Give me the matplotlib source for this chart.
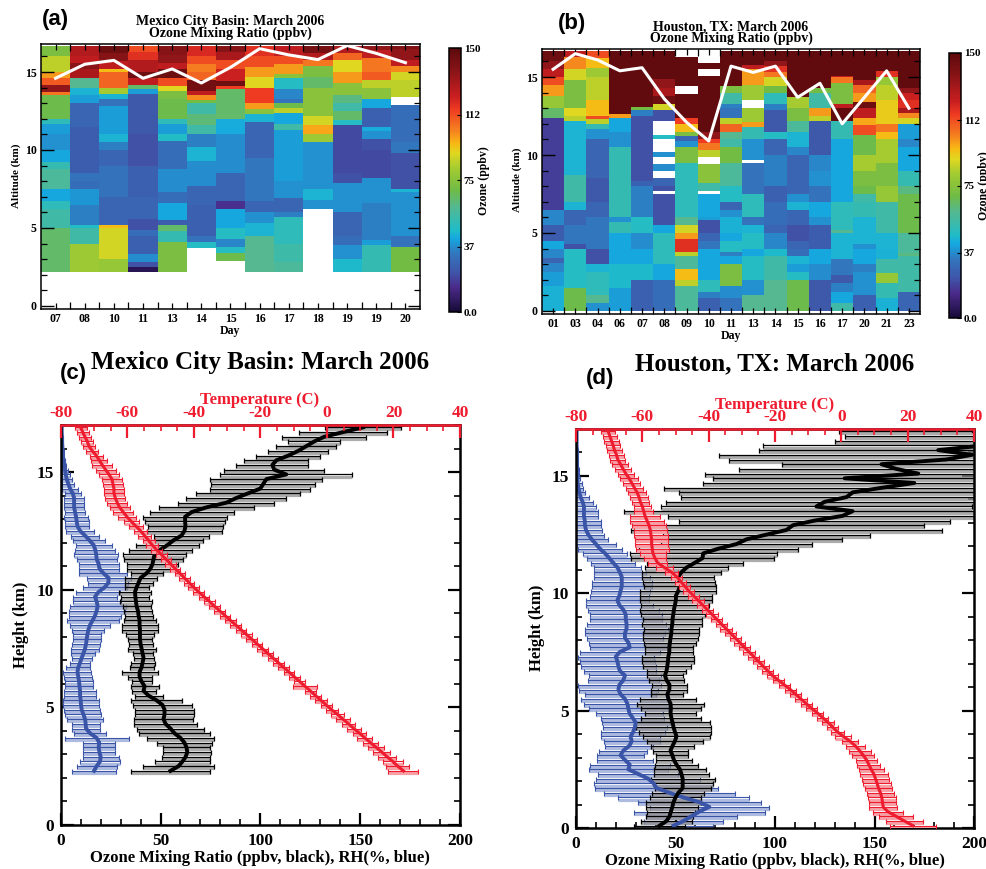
import numpy as np
import matplotlib
matplotlib.use('Agg')
import matplotlib.pyplot as plt
from matplotlib.colors import LinearSegmentedColormap, Normalize
from matplotlib.cm import ScalarMappable
from matplotlib.ticker import MultipleLocator

W, H = 986, 869
nan = float('nan')

days_a = ['07', '08', '10', '11', '13', '14', '15', '16', '17', '18', '19', '19', '20']
days_b = ['01', '03', '04', '06', '07', '08', '09', '10', '11', '13', '14', '15', '16', '17', '20', '21', '23']

# each column: (layer bottom km, ozone ppbv), nan = no data
cols_a = [
    [(2.2, 65), (5, 55), (6.2, 50), (6.7, 42), (7.5, 58), (8.8, 52), (9.2, 42), (10, 38), (11, 40), (11.7, 50), (12, 68), (13.5, 105), (13.7, 135), (14.2, 110), (14.6, 100), (15, 85), (16, 72)],
    [(2.2, 80), (4, 55), (5, 47), (5.2, 35), (6.5, 39), (7.5, 30), (8, 32), (8.5, 25), (11.5, 28), (13, 40), (13.5, 45), (14, 60), (14.6, 130), (15.2, 137), (15.6, 125), (16, 128)],
    [(2.2, 78), (3, 88), (5, 95), (5.2, 28), (7, 32), (9, 28), (10, 35), (10.5, 45), (11, 40), (12.8, 32), (13.3, 45), (13.6, 82), (14, 108), (15, 95), (15.2, 125), (15.7, 138), (16.2, 145)],
    [(2.2, 5), (2.5, 22), (2.8, 37), (3.3, 26), (4.5, 30), (4.9, 22), (5.6, 28), (7, 26), (9, 22), (11, 24), (13.6, 40), (13.9, 65), (14.2, 125), (14.6, 145), (15, 128), (15.8, 118), (16.3, 112)],
    [(2.2, 72), (4.1, 52), (4.8, 65), (5.2, 25), (5.5, 42), (6.6, 30), (7.3, 37), (8.8, 30), (10.6, 47), (11, 40), (11.7, 50), (12, 68), (13.3, 72), (13.8, 90), (14.1, 112), (14.6, 145), (15.2, 125), (15.6, 135), (16.1, 138)],
    [(2.2, nan), (3.7, 48), (4.1, 32), (4.5, 26), (6.5, 28), (7.7, 37), (9.3, 45), (10.2, 35), (11, 55), (11.6, 63), (12.3, 55), (13, 70), (13.2, 102), (13.5, 125), (13.8, 143), (14.5, 108), (15, 104), (15.5, 112), (16, 120)],
    [(2.2, nan), (2.9, 68), (3.4, 48), (3.8, 36), (4.3, 48), (5, 42), (6.2, 15), (6.7, 28), (8.5, 37), (11, 43), (12, 65), (13.9, 115), (14.1, 145), (14.4, 122), (15.2, 112), (15.8, 130), (16.3, 138)],
    [(2.2, 60), (4.5, 45), (5.3, 38), (6, 28), (6.7, 33), (9.5, 28), (11.8, 45), (12.3, 75), (12.6, 100), (13, 115), (14, 90), (14.7, 100), (15.3, 112), (16, 118)],
    [(2.2, 58), (2.8, 54), (4, 50), (5.7, 35), (6, 28), (6.9, 38), (8, 40), (11.3, 55), (11.7, 42), (12.4, 85), (12.7, 68), (13, 32), (13.3, 36), (13.9, 48), (14.6, 75), (14.9, 100), (15.5, 112), (16, 125)],
    [(2.2, nan), (6.2, 38), (6.8, 45), (7.5, 38), (10.5, 80), (11, 98), (11.6, 88), (12.2, 75), (14, 65), (14.7, 72), (15.4, 105), (15.8, 128), (16.2, 142)],
    [(2.2, 46), (3, 38), (3.9, 30), (4.5, 28), (6, 38), (7.9, 22), (8.5, 20), (11.6, 48), (11.9, 65), (12.5, 55), (13, 62), (13.5, 75), (14.3, 100), (15, 90), (15.8, 108), (16.2, 128)],
    [(2.2, 52), (3.9, 40), (4.2, 35), (6.6, 38), (8.2, 20), (10, 22), (10.7, 38), (11.2, 43), (11.5, 26), (12.7, 42), (13.3, 75), (14, 85), (14.5, 110), (15, 105), (15.9, 125), (16.4, 135)],
    [(2.2, 70), (3.8, 32), (4.5, 38), (7.3, 45), (7.5, 22), (9.8, 33), (10.5, 30), (12.9, nan), (13.4, 85), (14.5, 88), (15, 102), (15.4, 125), (15.8, 135), (16.5, 140)],
]
cols_b = [
    [(0, 44), (1.6, 40), (2.5, 36), (3.1, 28), (3.4, 36), (4, 42), (4.5, 25), (5.5, 36), (6.5, 18), (12.4, 65), (13, 78), (13.8, 100), (14.5, 112), (15, 125), (15.5, 135), (16, 145)],
    [(0, 68), (1.5, 48), (4, 22), (4.3, 33), (5.5, 28), (6.5, 45), (7, 55), (8.7, 45), (12.2, 85), (12.5, 90), (13, 72), (14.8, 88), (15.5, 102), (16.3, 125)],
    [(0, 38), (0.5, 60), (1, 50), (2.5, 45), (3, 22), (4, 33), (6, 28), (7, 24), (8.5, 28), (11, 38), (11.7, 52), (12, 85), (12.3, 112), (12.5, 95), (13.5, 85), (15, 80), (15.6, 95), (16.2, 112)],
    [(0, 40), (1.5, 46), (3, 42), (5, 52), (5.7, 38), (6, 52), (10.5, 38), (11.5, 42), (12.4, 100), (12.6, 148)],
    [(0, 26), (2, 46), (3, 42), (4, 37), (5, 48), (6, 35), (8, 27), (8.3, 22), (12.5, 35), (12.9, 70), (13.1, 148)],
    [(0, 30), (2, 42), (3, 50), (5, 42), (5.5, 22), (7.5, nan), (7.7, 22), (8, 28), (8.5, nan), (9, 37), (9.4, nan), (9.9, 38), (10.2, nan), (11, 48), (11.3, nan), (12.2, 22), (12.9, 88), (13.3, 145), (13.8, 130), (14.3, 135), (14.9, 148)],
    [(0, 58), (1.6, 85), (2, 95), (2.7, 58), (3.5, 85), (3.8, 118), (4.6, 100), (5, 88), (5.5, 60), (6, 50), (9.5, 72), (10.5, 38), (10.9, 28), (11.2, 72), (11.5, 95), (12, 115), (12.4, 148), (13.9, nan), (14.4, 148), (16.3, nan)],
    [(0, 26), (0.8, 35), (1.2, 50), (2, 42), (4, 33), (4.5, 28), (5, 22), (5.8, 40), (6, 42), (7.5, nan), (7.7, 55), (8.2, 75), (9.4, nan), (9.9, 85), (10.3, 105), (10.8, 115), (11, 135), (11.5, 148), (15.1, nan), (15.5, 148), (15.9, nan)],
    [(0, 32), (0.8, 37), (1.6, 72), (3, 42), (3.5, 35), (3.8, 48), (4.5, 42), (5, 44), (6, 38), (6.5, 28), (7, 48), (8, 58), (9.5, 70), (10.5, 55), (11, 60), (11.5, 108), (12, 85), (12.4, 32), (13, 35), (13.3, 55), (14, 72), (14.4, 148)],
    [(0, 60), (1, 38), (2, 48), (3.5, 42), (4, 48), (5, 45), (5.5, 32), (6, 50), (7.5, 32), (9.5, nan), (9.7, 38), (11, 52), (11.8, 100), (12.1, 80), (13, nan), (13.5, 80), (14.5, 100), (15.5, 125), (15.8, 148)],
    [(0, 60), (2, 55), (3.5, 46), (4, 36), (5, 28), (5.5, 30), (7, 26), (8, 35), (10, 28), (11, 48), (11.5, 24), (12.9, 35), (13.3, 50), (14, 70), (14.4, 88), (15, 105), (15.3, 118), (15.7, 135), (16, 148)],
    [(0, 68), (2, 48), (2.5, 40), (3, 45), (3.5, 30), (4, 28), (4.5, 22), (5.5, 28), (6.5, 45), (7, 38), (7.5, 28), (10, 36), (10.5, 45), (11.5, 58), (12.2, 72), (13, 82), (13.7, 148)],
    [(0, 24), (2, 37), (3, 42), (4, 25), (5.5, 38), (6, 42), (7, 32), (8, 38), (9, 36), (10, 24), (12.2, 85), (12.5, 100), (13, 55), (14, 70), (14.3, 148)],
    [(0, 55), (0.5, 42), (1.2, 35), (1.8, 24), (2.3, 33), (3.3, 45), (5, 60), (5.2, 50), (7, 42), (11, 52), (12.2, 148), (13, 125), (13.3, 72), (14.6, 105), (15, 125), (15.1, 148)],
    [(0, 26), (1, 38), (2.5, 35), (3, 42), (4, 38), (4.3, 45), (6, 52), (7, 55), (7.5, 68), (8, 72), (9, 82), (10, 68), (11.3, 112), (11.9, 98), (12.4, 125), (13, 145), (13.4, 100), (14, 108), (14.5, 130), (14.8, 148)],
    [(0, 44), (0.8, 52), (1.8, 78), (2.4, 55), (3.3, 44), (4, 45), (5, 55), (7, 78), (8, 72), (9.5, 82), (11, 95), (11.5, 105), (12, 92), (13.5, 85), (14.5, 78), (15, 118), (15.4, 148)],
    [(0, 28), (1.2, 55), (3.5, 62), (3.7, 58), (5, 68), (7.5, 62), (8, 52), (9, 42), (10.5, 36), (11, 40), (12, 88), (12.4, 102), (12.7, 130), (13, 118), (13.5, 122), (14, 135), (14.3, 148)],
]
trop_a = [14.6, 15.5, 15.75, 14.6, 15.2, 14.3, 15.3, 16.5, 16.1, 15.8, 16.7, 16.2, 15.6]
trop_b = [15.5, 16.5, 16.1, 15.4, 15.6, 13.6, 12.1, 10.9, 15.7, 15.3, 15.7, 13.7, 14.6, 12.0, 13.7, 15.4, 13.0]
cbar_ticks = [0, 37, 75, 112, 150]
cbar_labels = ['0.0', '37', '75', '112', '150']

# profiles, 0.2 km levels
z_c = np.arange(2.3, 16.95, 0.2)
o3_c = [55, 59, 61, 62.6, 63.4, 63, 62, 60, 57, 55, 52.5, 51.5, 52, 52, 51, 48, 44, 41.5, 42, 40.5,
        39.5, 39.5, 40.5, 41, 41.5, 41, 40.5, 40, 39.7, 39.7, 39.7, 39.5, 39.5, 39, 38.7, 38, 37.7, 37.4, 37.2, 38,
        39, 40, 43, 45, 46, 46.5, 47, 50, 53.5, 56.5, 60.5, 62, 62.5, 62.3, 62.3, 65.6, 73, 83, 88, 94,
        100, 101.5, 103, 113, 107, 106, 108, 114, 119, 123, 127, 132, 141.5, 151.5]
o3_sd_c = [20, 18, 14, 12, 12, 12, 14, 17, 18, 17, 16, 15, 15, 15, 15, 13, 7, 6, 7, 5,
           6, 9, 6, 6, 5, 5, 7, 6, 6, 7, 9, 9, 8, 7, 7, 7, 8, 7, 8, 6,
           7, 8, 8, 12, 13, 15, 16, 16, 16, 15, 14, 19, 19, 20, 21, 21, 24, 24, 25, 26,
           25, 26, 28, 33, 25, 18, 16, 16, 15, 15, 13, 21, 22, 19]
rh_c = [16.7, 18, 19.7, 20, 19.4, 19, 19.3, 18, 14.7, 12.7, 12.5, 12.2, 11.4, 10.5, 10.2, 10, 9.7, 9.7, 9.4, 9.2,
        8.8, 8.4, 8.8, 9.7, 10.5, 11.4, 12.2, 12.7, 13, 13.4, 13.9, 14.7, 16, 17.2, 18, 18.5, 18, 17.2, 18.9, 22,
        23.9, 24, 21.4, 19.4, 19, 18, 17.8, 17.3, 16.5, 14.4, 12.2, 9.7, 8.4, 8, 7.7, 7.2, 6.7, 6.7, 6.7, 6,
        4.7, 3.8, 3, 2.5, 2.2, 1.8, 1.3, 1.1, 1, 0.8, 0.7, 0.6, 0.5, 0.5]
rh_sd_c = [11, 10, 10, 9, 8, 8, 8, 16, 8, 7, 7, 9, 9, 9, 9, 9, 8, 8, 7, 7,
           7, 7, 6, 5, 5, 6, 7, 7, 7, 7, 8, 10, 13, 13, 14, 14, 12, 11, 11, 11,
           10, 11, 12, 10, 10, 10, 11, 10, 9, 8, 7, 7, 6, 6, 6, 5, 5, 5, 5, 4,
           4, 3, 2.5, 2, 1.5, 1, 1, 0.7, 0.6, 0.5, 0.4, 0.4, 0.3, 0.3]
t_c = [23, 21.3, 19.8, 18.1, 16.5, 14.8, 13.1, 11.4, 9.8, 8.1, 6.5, 4.8, 3.2, 1.4, -0.2, -1.8, -3.4, -5, -6.6, -8.2,
       -9.8, -11.4, -13, -14.6, -16.2, -17.8, -19.4, -21, -22.6, -24.2, -25.8, -27.4, -29, -30.6, -32.2, -33.8, -35.3, -36.9, -38.5, -40,
       -41.4, -42.8, -44.2, -45.6, -47, -48.4, -49.8, -51.2, -52.5, -53.6, -54.8, -56, -57.4, -58.8, -60.1, -61.2, -62.3, -63, -63.6, -64,
       -64, -64.3, -64.6, -65.5, -66.5, -67.5, -68.4, -69.3, -70.5, -71.5, -72, -72.7, -73.4, -74]
t_sd_c = [4.5, 3.5, 3, 2.8, 2.6, 2.5, 2.3, 2.3, 2.1, 2.1, 2, 2, 1.9, 1.8, 1.7, 1.7, 1.6, 1.6, 3.6, 1.6,
          1.6, 1.6, 1.6, 1.6, 1.6, 1.6, 1.6, 1.6, 1.6, 1.6, 1.6, 1.6, 1.6, 1.6, 1.6, 1.6, 1.6, 1.6, 1.6, 1.6,
          1.6, 1.6, 1.6, 1.6, 1.6, 1.6, 1.6, 1.6, 1.8, 1.8, 2, 2, 2.2, 2.2, 2.6, 3, 3, 3, 3, 3,
          3, 3, 3, 3, 3, 3, 2.4, 2, 1.8, 1.8, 1.8, 1.8, 1.8, 1.8]

z_d = np.arange(0.1, 16.95, 0.2)
o3_d = [42, 45.5, 47, 47.7, 48.4, 49, 50, 51.4, 53.6, 53.6, 53.6, 53, 52.2, 50.5, 49.2, 48.4, 47.5, 48.5, 49.7, 50.5,
        49.7, 49, 48.5, 47.9, 47.5, 47.7, 47.5, 46.4, 45.9, 46.9, 47, 45.5, 44.7, 45.5, 45.9, 46.2, 46.4, 46.9, 46.9, 47.2,
        47.5, 47.9, 48, 48.4, 48.5, 48.9, 49.2, 49.7, 50.2, 50.2, 51.4, 52.2, 51.9, 51.4, 53, 55.6, 59.7, 63.6, 63.9, 71.5,
        80.7, 85.7, 95.7, 105.8, 109, 120, 134, 139, 120.8, 125, 136, 139, 154, 170, 135, 172,
        161, 153.5, 186, 199, 182, 205, 215, 215, 200]
o3_sd_d = [13, 13, 12, 12, 13, 14, 13, 13, 14, 15, 16, 14, 13, 11, 9, 8, 9, 11, 14, 17,
           18, 19, 19, 15, 13, 15, 17, 14, 8, 9, 9, 9, 9, 10, 12, 13, 13, 12, 12, 13,
           14, 14, 14, 15, 15, 16, 17, 17, 18, 18, 19, 18, 18, 18, 20, 21, 24, 36, 37, 40,
           38, 48, 52, 78, 66, 68, 88, 115, 78, 80, 83, 87, 110, 106, 66, 107,
           79, 50, 109, 127, 90, 111, 85, 80, 68]
rh_d = [49, 54, 58, 62, 67, 62, 54, 47, 40.5, 39, 36.3, 31.3, 26.3, 27, 24.6, 22.4, 23.8, 26.8, 28, 27.4,
        28.8, 29.6, 30, 28.4, 26.8, 26.3, 25.8, 24.6, 22.4, 21.3, 21.8, 23.8, 24.6, 22, 21.3, 20.8, 20, 22, 27, 26.3,
        24.6, 24.6, 25.4, 25.4, 25, 25, 23.8, 21.8, 20.8, 21.8, 22.4, 23, 23, 23, 22, 20.8, 18.7, 16.7, 14.6, 12,
        10, 7.9, 6.2, 5, 4.5, 4.4, 4, 4, 4, 3.3, 2.3, 1.7, 1.2, 0.8, 0.6, 0.6,
        0.5, 0.5, 0.4, 0.4, 0.4, 0.3, 0.3, 0.3, 0.3]
rh_sd_d = [20, 20, 23, 33, 30, 31, 33, 33, 31, 30, 26, 20, 20, 20, 14, 12, 12, 12, 14, 15,
           16, 16, 17, 16, 17, 20, 22, 22, 18, 20, 21, 18, 18, 18, 19, 19, 19, 20, 20, 20,
           19, 20, 21, 20, 18, 18, 18, 17, 16, 15, 15, 15, 15, 14, 13, 12, 11, 11, 11, 11,
           10, 8, 8, 8, 8, 8, 7, 7, 6, 5, 4, 3, 2.5, 2, 1.5, 1,
           0.8, 0.6, 0.5, 0.4, 0.4, 0.3, 0.3, 0.3, 0.3]
t_d = [21.6, 19, 16.5, 14, 12.6, 12.4, 12.2, 11.8, 11.2, 10.8, 10.3, 9.8, 9, 8.3, 7.6, 6.6, 5.5, 4.2, 2.6, 0.6,
       -1.2, -2.6, -4, -5.6, -7.2, -9, -10.6, -12.2, -13.8, -15.4, -17.2, -19, -20.8, -22.2, -23.6, -25, -26.4, -27.8, -29.2, -30.6,
       -32, -33.4, -34.8, -36.2, -37.6, -39, -40.4, -41.8, -43.2, -44.6, -46, -47.2, -48.4, -49.6, -51.2, -53.4, -55.4, -56.2, -56.8, -57,
       -57.2, -57.2, -57.4, -57.6, -58, -58.6, -59.2, -59.6, -60, -60.6, -61, -61.6, -62.4, -63.2, -64, -65,
       -65.8, -66.6, -67.4, -67.8, -68.4, -68.8, -69.3, -69.8, -70.3]
t_sd_d = [7, 5.5, 5, 4.5, 4.2, 4.2, 4.2, 4.2, 4.2, 4.2, 4.2, 4.2, 3.8, 3.5, 3.3, 3.3, 3.3, 2.8, 2.4, 2.4,
          1.9, 1.7, 1.7, 1.7, 1.7, 1.7, 1.7, 1.7, 1.7, 1.7, 1.7, 1.7, 1.7, 1.7, 1.7, 1.7, 1.7, 1.7, 1.7, 1.7,
          1.7, 1.7, 1.7, 1.7, 1.7, 1.7, 1.7, 1.7, 1.7, 1.7, 1.7, 1.7, 1.7, 1.7, 1.9, 2.5, 2.8, 3.2, 4, 5,
          5, 5, 5, 5, 5, 5, 4.5, 2.8, 2.6, 2.6, 2.6, 2.6, 2.6, 2.6, 2.6, 2.4,
          2.4, 2.4, 2.2, 2.2, 2.2, 2.2, 2.2, 2.2, 2.2]

plt.rcParams['font.family'] = ['Liberation Serif', 'DejaVu Serif']
plt.rcParams['font.weight'] = 'bold'
plt.rcParams['axes.unicode_minus'] = False

o3_cmap = LinearSegmentedColormap.from_list('o3', [
    (0.0, '#150a35'), (0.09, '#4b2a8a'), (0.15, '#3f55a8'), (0.22, '#3276be'), (0.28, '#15a8e0'),
    (0.31, '#20bcc8'), (0.40, '#55b890'), (0.46, '#6fbb45'), (0.55, '#a8cc30'), (0.60, '#e0d820'),
    (0.64, '#f8b815'), (0.69, '#f58020'), (0.77, '#ee3a22'), (0.82, '#c81e20'), (0.91, '#8c1518'),
    (1.0, '#5c0a0c')])
o3_norm = Normalize(0, 150)

fig = plt.figure(figsize=(W / 100, H / 100), dpi=100)


def px_axes(x0, y0, x1, y1):
    return fig.add_axes([x0 / W, 1 - y1 / H, (x1 - x0) / W, (y1 - y0) / H])


def px_text(x, y, s, **kw):
    kw.setdefault('ha', 'center')
    kw.setdefault('va', 'center')
    fig.text(x / W, 1 - y / H, s, **kw)


def curtain(box, cbox, days, cols, trop):
    ax = px_axes(*box)
    for i, col in enumerate(cols):
        edges = [c[0] for c in col] + [16.7]
        vals = np.array([[c[1]] for c in col], dtype=float)
        ax.pcolormesh([i, i + 1], edges, np.ma.masked_invalid(vals), cmap=o3_cmap, norm=o3_norm)
    ax.plot(np.arange(len(days)) + 0.5, trop, color='white', lw=2.2)
    ax.set_xlim(0, len(days))
    ax.set_ylim(-0.2, 16.8)
    ax.set_xticks(np.arange(1, len(days)))
    ax.set_xticks(np.arange(len(days)) + 0.5, labels=days, minor=True, fontsize=8.5)
    ax.tick_params(axis='x', which='major', direction='in', length=5, width=0.9, top=True, labelbottom=False)
    ax.tick_params(axis='x', which='minor', direction='in', length=4, width=0.9, top=True, pad=3)
    ax.yaxis.set_major_locator(MultipleLocator(5))
    ax.yaxis.set_minor_locator(MultipleLocator(1))
    ax.tick_params(axis='y', which='major', direction='in', length=9, width=1, right=True, labelsize=8.5, pad=3)
    ax.tick_params(axis='y', which='minor', direction='in', length=4, width=0.9, right=True)
    for s in ax.spines.values():
        s.set_linewidth(1.1)
    cax = px_axes(*cbox)
    cb = fig.colorbar(ScalarMappable(norm=o3_norm, cmap=o3_cmap), cax=cax, ticks=cbar_ticks)
    cb.ax.set_yticklabels(cbar_labels, fontsize=8)
    cb.ax.tick_params(direction='in', length=3, width=0.8, pad=2)
    cb.outline.set_linewidth(1.1)
    return ax


def profile(box, z, o3, o3_sd, rh, rh_sd, t, t_sd):
    ax = px_axes(*box)
    o3, o3_sd, rh, rh_sd = map(np.array, (o3, o3_sd, rh, rh_sd))
    t, t_sd = np.array(t), np.array(t_sd)
    # grey band under each bar comes out like the scanned hatching
    ax.hlines(z - 0.09, rh - rh_sd, rh + rh_sd, color='#aebbe0', lw=2.3)
    ax.errorbar(rh, z, xerr=rh_sd, fmt='none', ecolor='#3a55a8', elinewidth=0.8, capsize=1.8, capthick=0.8)
    ax.hlines(z - 0.09, o3 - o3_sd, o3 + o3_sd, color='#909090', lw=2.3, alpha=0.75)
    ax.errorbar(o3, z, xerr=o3_sd, fmt='none', ecolor='black', elinewidth=0.9, capsize=1.8, capthick=0.9)
    ax.plot(rh, z, color='#3a55a8', lw=2.8)
    ax.plot(o3, z, color='black', lw=2.8)
    ax.set_xlim(0, 200)
    ax.set_ylim(0, 17)
    ax.xaxis.set_major_locator(MultipleLocator(50))
    ax.xaxis.set_minor_locator(MultipleLocator(10))
    ax.yaxis.set_major_locator(MultipleLocator(5))
    ax.yaxis.set_minor_locator(MultipleLocator(1))
    ax.tick_params(axis='x', which='major', direction='in', length=9, width=1.6, labelsize=12.5, pad=6)
    ax.tick_params(axis='x', which='minor', direction='in', length=4, width=1.2)
    ax.tick_params(axis='y', which='major', direction='in', length=9, width=1.6, right=True, labelsize=12.5, pad=5)
    ax.tick_params(axis='y', which='minor', direction='in', length=4, width=1.2, right=True)
    for s in ax.spines.values():
        s.set_linewidth(1.8)

    top = ax.twiny()
    top.hlines(z - 0.09, t - t_sd, t + t_sd, color='#f7a0a6', lw=2.3)
    top.errorbar(t, z, xerr=t_sd, fmt='none', ecolor='#ee1c2e', elinewidth=0.8, capsize=1.8, capthick=0.8)
    top.plot(t, z, color='#ee1c2e', lw=2.2)
    top.set_xlim(-80, 40)
    top.xaxis.set_major_locator(MultipleLocator(20))
    top.xaxis.set_minor_locator(MultipleLocator(5))
    top.tick_params(axis='x', which='major', direction='in', length=9, width=1.6, color='#ee1c2e',
                    labelcolor='#ee1c2e', labelsize=12.5, pad=3)
    top.tick_params(axis='x', which='minor', direction='in', length=4, width=1.2, color='#ee1c2e')
    top.spines['top'].set_color('#ee1c2e')
    top.spines['top'].set_linewidth(1.8)
    for side in ['left', 'right', 'bottom']:
        top.spines[side].set_visible(False)
    return ax


curtain((41, 44, 420, 309), (449, 48, 461, 312), days_a, cols_a, trop_a)
curtain((542, 49, 920, 314), (949, 53, 961, 318), days_b, cols_b, trop_b)
profile((60.7, 425, 460, 825), z_c, o3_c, o3_sd_c, rh_c, rh_sd_c, t_c, t_sd_c)
profile((576, 429, 974, 828), z_d, o3_d, o3_sd_d, rh_d, rh_sd_d, t_d, t_sd_d)

# small panel titles
px_text(230, 22, 'Mexico City Basin: March 2006', fontsize=10)
px_text(230, 33, 'Ozone Mixing Ratio (ppbv)', fontsize=10)
px_text(731, 27, 'Houston, TX: March 2006', fontsize=10)
px_text(731, 38, 'Ozone Mixing Ratio (ppbv)', fontsize=10)
px_text(230, 331, 'Day', fontsize=8.5)
px_text(731, 336, 'Day', fontsize=8.5)
px_text(16, 176, 'Altitude (km)', fontsize=8, rotation=90)
px_text(517, 180, 'Altitude (km)', fontsize=8, rotation=90)
px_text(484, 181, 'Ozone (ppbv)', fontsize=8.5, rotation=90)
px_text(984, 186, 'Ozone (ppbv)', fontsize=8.5, rotation=90)

# big panel titles
px_text(260, 362, 'Mexico City Basin: March 2006', fontsize=18)
px_text(775, 364, 'Houston, TX: March 2006', fontsize=18)
red = '#ee1c2e'
px_text(260, 400, 'Temperature (C)', fontsize=12, color=red)
px_text(775, 405, 'Temperature (C)', fontsize=12, color=red)
px_text(260, 858, 'Ozone Mixing Ratio (ppbv, black), RH(%, blue)', fontsize=12)
px_text(775, 861, 'Ozone Mixing Ratio (ppbv, black), RH(%, blue)', fontsize=12)
px_text(21, 625, 'Height (km)', fontsize=12, rotation=90)
px_text(537, 628, 'Height (km)', fontsize=12, rotation=90)

# panel letters
for x, y, s in [(55, 19, '(a)'), (572, 24, '(b)'), (73, 373, '(c)'), (600, 378, '(d)')]:
    px_text(x, y, s, fontsize=16, family=['Liberation Sans', 'DejaVu Sans'])

fig.savefig('out.png', dpi=100)
